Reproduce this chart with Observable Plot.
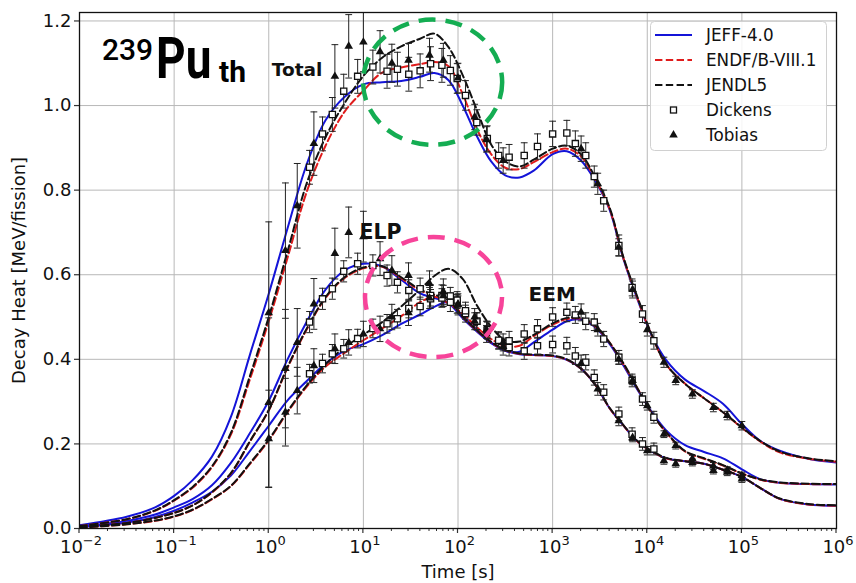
<!DOCTYPE html>
<html><head><meta charset="utf-8">
<script src="https://cdn.jsdelivr.net/npm/d3@7"></script>
<script src="https://cdn.jsdelivr.net/npm/@observablehq/plot@0.6"></script>
<style>body{margin:0;background:#fff} #chart{width:856px;height:583px}</style>
</head><body><div id="chart"></div>
<script>
// ---------- axis ticks ----------
const xTicks = [0.01, 0.1, 1, 10, 100, 1000, 1e4, 1e5, 1e6];
const xTickBase = "10";
const xTickExponents = ["−2","−1","0","1","2","3","4","5","6"];
const yTicks = [0, 0.2, 0.4, 0.6, 0.8, 1.0, 1.2];
const yTickLabels = ["0.0","0.2","0.4","0.6","0.8","1.0","1.2"];

// ---------- calculated curves (time in s) ----------
const curveTimes = [0.01, 0.0316, 0.063, 0.1, 0.158, 0.251, 0.398, 0.631, 1, 1.58, 2.51, 3.98, 6.31, 10, 15.8, 25.1, 39.8, 56.2, 79.4, 112, 158, 224, 316, 447, 631, 1000, 1413, 1995, 2818, 3981, 5623, 7943, 11220, 15850, 25120, 39810, 63100, 1e5, 158500, 251200, 501200, 1e6];

const totalJEFF  = [0.008,0.028,0.050,0.077,0.115,0.170,0.264,0.410,0.555,0.710,0.860,0.965,1.020,1.050,1.055,1.058,1.068,1.077,1.060,1.000,0.928,0.868,0.835,0.830,0.846,0.885,0.892,0.870,0.822,0.755,0.636,0.540,0.455,0.398,0.352,0.325,0.295,0.247,0.206,0.184,0.165,0.156];
const totalENDF  = [0.006,0.022,0.042,0.066,0.097,0.145,0.222,0.352,0.490,0.640,0.795,0.905,0.985,1.035,1.078,1.090,1.098,1.103,1.093,1.027,0.945,0.885,0.853,0.850,0.866,0.890,0.898,0.880,0.826,0.757,0.638,0.542,0.455,0.388,0.342,0.308,0.275,0.238,0.205,0.180,0.165,0.158];
const totalJENDL = [0.006,0.022,0.043,0.067,0.099,0.147,0.226,0.360,0.500,0.655,0.815,0.925,1.005,1.070,1.113,1.140,1.158,1.170,1.138,1.072,0.990,0.908,0.868,0.856,0.872,0.898,0.905,0.885,0.830,0.760,0.640,0.545,0.457,0.388,0.342,0.308,0.275,0.239,0.206,0.182,0.166,0.159];

const elpJEFF  = [0.005,0.018,0.033,0.050,0.070,0.102,0.155,0.225,0.302,0.400,0.488,0.565,0.610,0.626,0.620,0.588,0.556,0.545,0.533,0.497,0.466,0.438,0.420,0.412,0.410,0.408,0.399,0.378,0.340,0.285,0.243,0.205,0.182,0.166,0.159,0.153,0.139,0.122,0.095,0.070,0.057,0.054];
const elpENDF  = [0.004,0.013,0.025,0.037,0.055,0.085,0.130,0.205,0.279,0.380,0.470,0.545,0.592,0.615,0.619,0.592,0.563,0.552,0.540,0.500,0.468,0.440,0.421,0.413,0.410,0.408,0.399,0.378,0.340,0.285,0.243,0.205,0.182,0.166,0.159,0.153,0.139,0.122,0.095,0.070,0.057,0.054];
const elpJENDL = [0.004,0.013,0.025,0.037,0.055,0.086,0.131,0.206,0.280,0.382,0.472,0.547,0.594,0.617,0.620,0.594,0.565,0.553,0.540,0.501,0.469,0.441,0.422,0.414,0.411,0.409,0.400,0.378,0.340,0.286,0.244,0.206,0.183,0.167,0.159,0.153,0.139,0.122,0.095,0.071,0.058,0.055];

const eemJEFF  = [0.003,0.014,0.027,0.042,0.062,0.087,0.125,0.183,0.243,0.303,0.348,0.390,0.420,0.436,0.457,0.484,0.506,0.524,0.535,0.503,0.470,0.440,0.420,0.418,0.440,0.470,0.490,0.494,0.476,0.437,0.385,0.327,0.275,0.232,0.197,0.181,0.166,0.140,0.116,0.108,0.105,0.104];
const eemENDF  = [0.002,0.010,0.018,0.028,0.044,0.069,0.100,0.152,0.208,0.275,0.335,0.383,0.415,0.445,0.473,0.502,0.535,0.548,0.532,0.508,0.476,0.448,0.432,0.432,0.455,0.482,0.495,0.496,0.478,0.440,0.388,0.330,0.272,0.227,0.182,0.165,0.149,0.130,0.115,0.108,0.105,0.105];
const eemJENDL = [0.002,0.010,0.019,0.029,0.045,0.070,0.101,0.154,0.210,0.277,0.338,0.388,0.428,0.458,0.488,0.525,0.565,0.597,0.614,0.590,0.528,0.477,0.445,0.442,0.458,0.485,0.498,0.498,0.480,0.440,0.390,0.330,0.272,0.228,0.183,0.166,0.150,0.130,0.116,0.109,0.106,0.105];

// ---------- Dickens measurements ----------
const dickensTimes = [2.7, 3.7, 4.7, 6.2, 8.7, 12.6, 17.8, 22.9, 30.2, 39.8, 51.3, 67.6, 83, 98, 120, 158, 204, 269, 347, 501, 692, 1000, 1413, 1738, 2239, 2754, 3467, 5012, 6918, 8913, 11750];
const dickensTotal = [0.854,0.933,0.979,1.034,1.069,1.091,1.081,1.086,1.074,1.082,1.099,1.095,1.083,1.064,1.024,0.960,0.922,0.882,0.878,0.882,0.903,0.933,0.935,0.910,0.882,0.832,0.775,0.669,0.570,0.507,0.444];
const dickensTotalErr = [0.04,0.04,0.04,0.04,0.04,0.04,0.04,0.04,0.04,0.04,0.04,0.04,0.035,0.035,0.035,0.03,0.03,0.03,0.03,0.03,0.03,0.03,0.03,0.03,0.03,0.025,0.025,0.025,0.02,0.02,0.02];
const dickensELP = [0.488,0.543,0.567,0.608,0.626,0.622,0.598,0.582,0.563,0.567,0.551,0.551,0.535,0.531,0.508,0.490,0.468,0.444,0.428,0.420,0.432,0.435,0.432,0.408,0.393,0.357,0.322,0.271,0.223,0.200,0.188];
const dickensELPErr = [0.025,0.025,0.025,0.025,0.025,0.025,0.025,0.025,0.025,0.025,0.025,0.025,0.022,0.022,0.02,0.02,0.02,0.02,0.02,0.02,0.02,0.02,0.02,0.02,0.018,0.018,0.018,0.016,0.015,0.015,0.014];
const dickensEEM = [0.366,0.390,0.413,0.425,0.449,0.473,0.484,0.496,0.520,0.525,0.543,0.545,0.550,0.540,0.515,0.490,0.470,0.445,0.444,0.460,0.472,0.500,0.511,0.505,0.490,0.488,0.448,0.405,0.350,0.306,0.263];
const dickensEEMErr = [0.022,0.022,0.022,0.022,0.022,0.022,0.022,0.022,0.022,0.022,0.022,0.022,0.02,0.02,0.02,0.02,0.02,0.02,0.022,0.022,0.022,0.022,0.022,0.02,0.02,0.02,0.018,0.016,0.015,0.015,0.014];

// ---------- Tobias measurements ----------
const tobiasTimes = [1, 1.5, 2, 3, 5, 7, 10, 15, 20, 30, 50, 70, 100, 150, 200, 300, 2000, 3000, 5000, 7000, 10000, 15000, 20000, 30000, 50000, 70000, 100000];
const tobiasTotal = [0.510,0.657,0.763,0.910,1.069,1.140,1.150,1.127,1.100,1.107,1.119,1.107,1.065,0.973,0.920,0.870,0.898,0.815,0.665,0.565,0.470,0.393,0.350,0.318,0.286,0.267,0.243];
const tobiasTotalErr = [0.215,0.16,0.10,0.075,0.075,0.075,0.07,0.05,0.045,0.04,0.04,0.04,0.035,0.03,0.03,0.03,0.03,0.025,0.02,0.02,0.015,0.012,0.01,0.01,0.01,0.01,0.01];
const tobiasELP = [0.298,0.378,0.440,0.531,0.650,0.700,0.690,0.638,0.610,0.598,0.579,0.560,0.530,0.490,0.460,0.430,0.390,0.330,0.255,0.215,0.184,0.160,0.153,0.156,0.137,0.133,0.117];
const tobiasELPErr = [0.2,0.14,0.08,0.06,0.06,0.06,0.06,0.04,0.035,0.03,0.03,0.03,0.025,0.02,0.02,0.02,0.02,0.015,0.012,0.01,0.01,0.008,0.008,0.008,0.008,0.008,0.008];
const tobiasEEM = [0.212,0.275,0.326,0.385,0.425,0.440,0.460,0.472,0.500,0.510,0.545,0.550,0.530,0.500,0.470,0.440,0.511,0.470,0.400,0.350,0.290,0.223,0.196,0.165,0.148,0.138,0.125];
const tobiasEEMErr = [0.115,0.08,0.055,0.04,0.035,0.03,0.03,0.03,0.03,0.03,0.025,0.025,0.02,0.02,0.02,0.02,0.02,0.015,0.012,0.01,0.01,0.008,0.008,0.008,0.008,0.008,0.008];

// ---------- text ----------
const legendLabels = ["JEFF-4.0", "ENDF/B-VIII.1", "JENDL5", "Dickens", "Tobias"];
const groupLabels = [
  {text: "Total", t: 1.99, v: 1.083, size: 18.5},
  {text: "ELP", t: 15.2, v: 0.701, size: 20.5},
  {text: "EEM", t: 990, v: 0.552, size: 20}
];

// ---------- build tables ----------
const libs = [
  {name: "JEFF-4.0", color: "#1414d8", dash: null},
  {name: "ENDF/B-VIII.1", color: "#e01c1c", dash: "7.4,3.4"},
  {name: "JENDL5", color: "#111111", dash: "7.4,3.4"}
];
const curveSets = [
  ["Total","JEFF-4.0",totalJEFF],["Total","ENDF/B-VIII.1",totalENDF],["Total","JENDL5",totalJENDL],
  ["ELP","JEFF-4.0",elpJEFF],["ELP","ENDF/B-VIII.1",elpENDF],["ELP","JENDL5",elpJENDL],
  ["EEM","JEFF-4.0",eemJEFF],["EEM","ENDF/B-VIII.1",eemENDF],["EEM","JENDL5",eemJENDL]
];
const curveRows = curveSets.flatMap(([g, lib, vals]) => vals.map((v, i) => ({t: curveTimes[i], v, lib, key: g + lib})));

function pts(times, vals, errs) { return times.map((t, i) => ({t, v: vals[i], e: errs[i]})); }
const dickensRows = [
  ...pts(dickensTimes, dickensTotal, dickensTotalErr),
  ...pts(dickensTimes, dickensELP, dickensELPErr),
  ...pts(dickensTimes, dickensEEM, dickensEEMErr)
];
const tobiasRows = [
  ...pts(tobiasTimes, tobiasTotal, tobiasTotalErr),
  ...pts(tobiasTimes, tobiasELP, tobiasELPErr),
  ...pts(tobiasTimes, tobiasEEM, tobiasEEMErr)
];
const allPts = [...dickensRows, ...tobiasRows];

const minorTicks = [];
for (let k = -2; k < 6; k++) for (let m = 2; m <= 9; m++) minorTicks.push(m * Math.pow(10, k));

const capSymbol = {draw(ctx, size) { const r = Math.sqrt(size / Math.PI); ctx.moveTo(-r, 0); ctx.lineTo(r, 0); }};

// dashed ellipse annotations (centre in data units, x-radius in decades)
const ellipses = [
  {t: 54.6, v: 1.054, rxDec: 0.735, ry: 0.148, color: "#14ad52"},
  {t: 55.8, v: 0.546, rxDec: 0.724, ry: 0.142, color: "#f7449a"}
];

function ellipseMark(index, scales) {
  const g = d3.create("svg:g");
  for (const e of ellipses) {
    const cx = scales.x(e.t), cy = scales.y(e.v);
    const rx = scales.x(e.t * Math.pow(10, e.rxDec)) - cx;
    const ry = cy - scales.y(e.v + e.ry);
    g.append("ellipse").attr("cx", cx).attr("cy", cy).attr("rx", rx).attr("ry", ry)
      .attr("fill", "none").attr("stroke", e.color).attr("stroke-width", 4.5)
      .attr("stroke-dasharray", "17,10");
  }
  return g.node();
}

// x tick marks drawn through the x scale, labels as "10" with a raised exponent
function xTickMark(index, scales, values, dims) {
  const g = d3.create("svg:g").attr("font-family", "'DejaVu Sans', sans-serif").attr("fill", "#111").attr("text-anchor", "middle");
  const y0 = dims.height - dims.marginBottom;
  for (const t of minorTicks) {
    const x = scales.x(t);
    g.append("line").attr("x1", x).attr("x2", x).attr("y1", y0).attr("y2", y0 + 3).attr("stroke", "#333").attr("stroke-width", 1);
  }
  xTicks.forEach((t, i) => {
    const x = scales.x(t);
    g.append("line").attr("x1", x).attr("x2", x).attr("y1", y0).attr("y2", y0 + 5).attr("stroke", "#333").attr("stroke-width", 1.2);
    const txt = g.append("text").attr("x", x + 2).attr("y", y0 + 25).attr("font-size", 18);
    txt.append("tspan").text(xTickBase);
    txt.append("tspan").attr("font-size", 13).attr("dy", -8).text(xTickExponents[i]);
  });
  return g.node();
}

function titleMark() {
  const g = d3.create("svg:g").attr("font-family", "Roboto, 'DejaVu Sans', sans-serif").attr("fill", "#000").attr("text-anchor", "start");
  g.append("text").attr("x", 102).attr("y", 60).attr("font-size", 30).attr("font-weight", 500).text("239");
  g.append("text").attr("transform", "translate(156,78) scale(1,1.26)").attr("font-size", 46).attr("font-weight", 700).text("Pu");
  g.append("text").attr("x", 219).attr("y", 82).attr("font-size", 30).attr("font-weight", 700).text("th");
  return g.node();
}

function legendMark() {
  const g = d3.create("svg:g").attr("font-family", "'DejaVu Sans', sans-serif").attr("text-anchor", "start");
  g.append("rect").attr("x", 650.5).attr("y", 21.5).attr("width", 176).attr("height", 129).attr("rx", 4)
    .attr("fill", "white").attr("fill-opacity", 0.85).attr("stroke", "#d0d0d0").attr("stroke-width", 1);
  const rowY = i => 35 + i * 25;
  libs.forEach((l, i) => {
    g.append("line").attr("x1", 655).attr("x2", 692).attr("y1", rowY(i)).attr("y2", rowY(i))
      .attr("stroke", l.color).attr("stroke-width", 2).attr("stroke-dasharray", l.dash);
  });
  g.append("rect").attr("x", 670.5).attr("y", rowY(3) - 3).attr("width", 6).attr("height", 6)
    .attr("fill", "white").attr("stroke", "#111").attr("stroke-width", 1.3);
  g.append("path").attr("d", d3.symbol(d3.symbolTriangle, 32)()).attr("transform", `translate(673.5,${rowY(4)})`).attr("fill", "#111");
  legendLabels.forEach((s, i) => {
    g.append("text").attr("x", 706).attr("y", rowY(i)).attr("dy", "0.36em").attr("font-size", 16.8).attr("fill", "#111").text(s);
  });
  return g.node();
}

const chart = Plot.plot({
  width: 856, height: 583,
  marginLeft: 79, marginRight: 20, marginTop: 12, marginBottom: 55,
  style: {fontFamily: "'DejaVu Sans', sans-serif", fontSize: "18px", color: "#111", background: "white", overflow: "visible"},
  x: {type: "log", domain: [0.01, 1e6], axis: null},
  y: {domain: [0, 1.22]},
  marks: [
    Plot.gridX(xTicks, {stroke: "#b8b8b8", strokeOpacity: 1, strokeWidth: 1}),
    Plot.gridY(yTicks, {stroke: "#b8b8b8", strokeOpacity: 1, strokeWidth: 1}),
    xTickMark,
    Plot.axisY(yTicks, {tickSize: 5, tickPadding: 3, tickFormat: d => yTickLabels[yTicks.indexOf(d)], fontSize: 18, stroke: "#333", strokeWidth: 1.2, label: null}),
    ...libs.map(l => Plot.line(curveRows.filter(r => r.lib === l.name), {
      x: "t", y: "v", z: "key", stroke: l.color, strokeWidth: 2, strokeDasharray: l.dash, curve: "catmull-rom", clip: true
    })),
    Plot.ruleX(allPts, {x: "t", y1: d => d.v - d.e, y2: d => d.v + d.e, stroke: "#222", strokeWidth: 1, clip: true}),
    Plot.dot(allPts, {x: "t", y: d => d.v + d.e, symbol: capSymbol, r: 3.4, stroke: "#222", fill: "none", strokeWidth: 1}),
    Plot.dot(allPts, {x: "t", y: d => d.v - d.e, symbol: capSymbol, r: 3.4, stroke: "#222", fill: "none", strokeWidth: 1}),
    Plot.dot(dickensRows, {x: "t", y: "v", symbol: "square", r: 3.5, fill: "white", stroke: "#111", strokeWidth: 1.3}),
    Plot.dot(tobiasRows, {x: "t", y: "v", symbol: "triangle", r: 3.2, fill: "#111", stroke: "none"}),
    ellipseMark,
    Plot.text(groupLabels, {x: "t", y: "v", text: "text", fontSize: d => d.size, fontWeight: "bold", fill: "#111", textAnchor: "middle", lineAnchor: "middle"}),
    titleMark,
    legendMark,
    Plot.frame({stroke: "#111", strokeWidth: 1.3}),
    Plot.text(["Time [s]"], {frameAnchor: "bottom", dy: 44, textAnchor: "middle", lineAnchor: "middle", fontSize: 18, fill: "#111"}),
    Plot.text(["Decay Heat [MeV/fission]"], {frameAnchor: "left", dx: -60, rotate: -90, textAnchor: "middle", lineAnchor: "middle", fontSize: 18, fill: "#111"})
  ]
});
document.getElementById("chart").appendChild(chart);
</script></body></html>
